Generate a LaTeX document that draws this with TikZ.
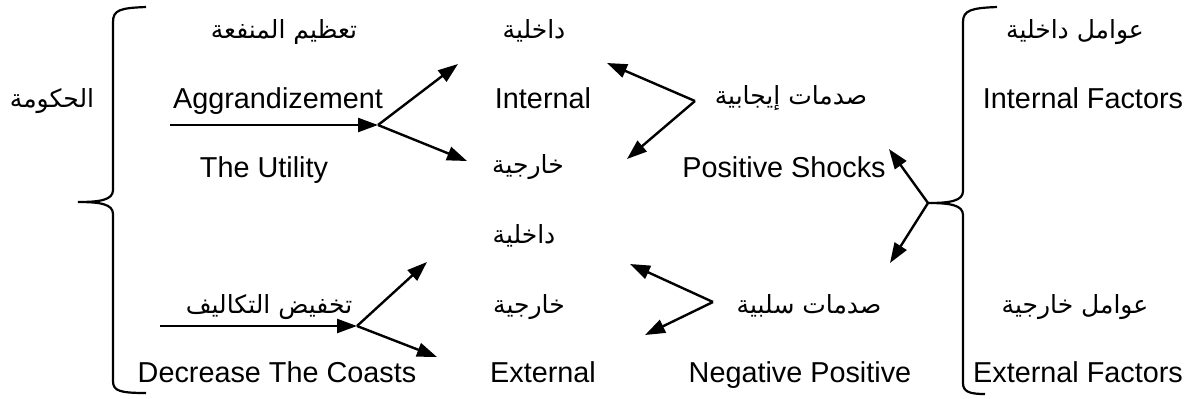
\documentclass[tikz,border=0pt]{standalone}
\usepackage{fontspec}
\setmainfont{Liberation Sans}
\newfontfamily\arabicfont[Script=Arabic]{DejaVu Sans}
\TeXXeTstate=1
\usetikzlibrary{arrows.meta}
\tikzset{
    en/.style={font=\fontsize{14.4}{17}\selectfont, inner sep=0pt, anchor=base},
    ar/.style={font=\fontsize{12.5}{15}\selectfont\arabicfont, inner sep=0pt, anchor=base},
    arr/.style={-{Triangle[length=10pt,width=7pt]}, line width=1.2pt},
}
\begin{document}
\begin{tikzpicture}[x=0.5pt, y=-0.5pt]
    \useasboundingbox (0,0) rectangle (1191,398);
    % left column
    \node[ar] (gov) at (52,107) {\beginR الحكومة\endR};
    \draw[line width=1.1pt] (146,7) .. controls (120,8) and (113,10) .. (113,22) -- (113,190)
        .. controls (113,200) and (100,202) .. (78,202) .. controls (100,202) and (113,204) .. (113,214)
        -- (113,381) .. controls (113,391) and (120,393) .. (146,393);
    \node[ar] (maxut) at (284,38) {\beginR تعظيم المنفعة\endR};
    \node[en] (aggr) at (278,108) {Aggrandizement};
    \node[en] (util) at (264,177) {The Utility};
    \node[ar] (redcost) at (269,313) {\beginR تخفيض التكاليف\endR};
    \node[en] (decr) at (277,382) {Decrease The Coasts};
    % middle column
    \node[ar] (inA) at (534,38) {\beginR داخلية\endR};
    \node[en] (internA) at (543,108) {Internal};
    \node[ar] (exA) at (528,173) {\beginR خارجية\endR};
    \node[ar] (inB) at (524,243) {\beginR داخلية\endR};
    \node[ar] (exB) at (529,313) {\beginR خارجية\endR};
    \node[en] (extB) at (543,382) {External};
    % shocks
    \node[ar] (posAr) at (791,104) {\beginR صدمات إيجابية\endR};
    \node[en] (posEn) at (784,177) {Positive Shocks};
    \node[ar] (negAr) at (809,313) {\beginR صدمات سلبية\endR};
    \node[en] (negEn) at (800,382) {Negative Positive};
    % factors
    \draw[line width=1.1pt] (997,7) .. controls (972,8) and (963,10) .. (963,22) -- (963,191)
        .. controls (963,201) and (950,203) .. (928,203) .. controls (950,203) and (963,205) .. (963,215)
        -- (963,383) .. controls (963,392) and (970,394) .. (985,394);
    \node[ar] (inFAr) at (1075,38) {\beginR عوامل داخلية\endR};
    \node[en] (inFEn) at (1083,108) {Internal Factors};
    \node[ar] (exFAr) at (1075,313) {\beginR عوامل خارجية\endR};
    \node[en] (exFEn) at (1078,382) {External Factors};
    % arrows
    \coordinate (hA0) at (170,125);
    \coordinate (hA) at (378,125);
    \coordinate (upA) at (458,64);
    \coordinate (dnA) at (467,161);
    \coordinate (hB0) at (160,326);
    \coordinate (hB) at (357,326);
    \coordinate (upB) at (427,262);
    \coordinate (dnB) at (437,357);
    \coordinate (pos) at (695,101);
    \coordinate (posIn) at (607,63);
    \coordinate (posEx) at (627,159);
    \coordinate (neg) at (713,302);
    \coordinate (negIn) at (630,264);
    \coordinate (negEx) at (645,335);
    \coordinate (fac) at (928,203);
    \coordinate (facPos) at (889,149);
    \coordinate (facNeg) at (890,263);
    \draw[arr] (hA0) -- (hA);
    \draw[arr] (hA) -- (upA);
    \draw[arr] (hA) -- (dnA);
    \draw[arr] (hB0) -- (hB);
    \draw[arr] (hB) -- (upB);
    \draw[arr] (hB) -- (dnB);
    \draw[arr] (pos) -- (posIn);
    \draw[arr] (pos) -- (posEx);
    \draw[arr] (neg) -- (negIn);
    \draw[arr] (neg) -- (negEx);
    \draw[arr] (fac) -- (facPos);
    \draw[arr] (fac) -- (facNeg);
\end{tikzpicture}
\end{document}
